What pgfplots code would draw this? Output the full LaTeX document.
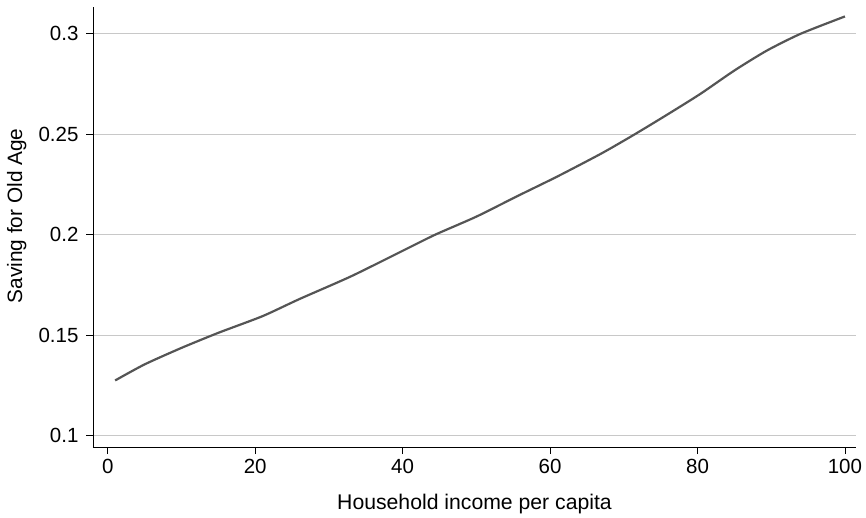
\documentclass[border=0pt]{standalone}
\usepackage{pgfplots}
\pgfplotsset{compat=1.18}
\usepackage{fontspec}
\setmainfont{Liberation Sans}
\definecolor{linegray}{HTML}{555555}
\definecolor{gridgray}{HTML}{C8C8C8}
\begin{document}
\begin{tikzpicture}
\useasboundingbox (-93pt,-70pt) rectangle (773pt,447pt);
\begin{axis}[
  at={(0pt,0pt)}, anchor=south west,
  scale only axis, width=763pt, height=440pt,
  xmin=-2, xmax=101.5, ymin=0.0944, ymax=0.3133,
  axis x line*=bottom, axis y line*=left,
  axis line style={line width=0.9pt, black},
  tick align=outside, major tick length=7pt,
  tick style={line width=0.9pt, black},
  xtick={0,20,40,60,80,100},
  ytick={0.1,0.15,0.2,0.25,0.3},
  yticklabel style={/pgf/number format/fixed, /pgf/number format/precision=2, xshift=-4pt},
  /pgf/number format/assume math mode=true,
  ymajorgrids, grid style={gridgray, line width=0.9pt},
  tick label style={font=\fontsize{20.5}{24}\selectfont},
  xlabel={Household income per capita},
  ylabel={Saving for Old Age},
  every axis x label/.style={at={(axis cs:49.75,0.0944)}, anchor=north, yshift=-44pt, font=\fontsize{21.2}{24}\selectfont},
  every axis y label/.style={at={(axis cs:-2,0.2094)}, anchor=south, rotate=90, yshift=63pt, font=\fontsize{20.8}{24}\selectfont},
  xticklabel style={yshift=-2pt},
]
\addplot[linegray, line width=2.2pt, smooth, tension=0.4] coordinates {
(1,0.1275) (5,0.1355) (10,0.1437) (15,0.1512) (21,0.1595) (26,0.1680)
(33,0.1793) (40,0.1920) (44.4,0.2000) (50,0.2090) (55.5,0.2191) (61,0.2290)
(67,0.2405) (71.5,0.2500) (76,0.2600) (80.4,0.2701) (85,0.2817) (89.4,0.2916)
(94,0.3000) (100,0.3086)
};
\end{axis}
\end{tikzpicture}
\end{document}
